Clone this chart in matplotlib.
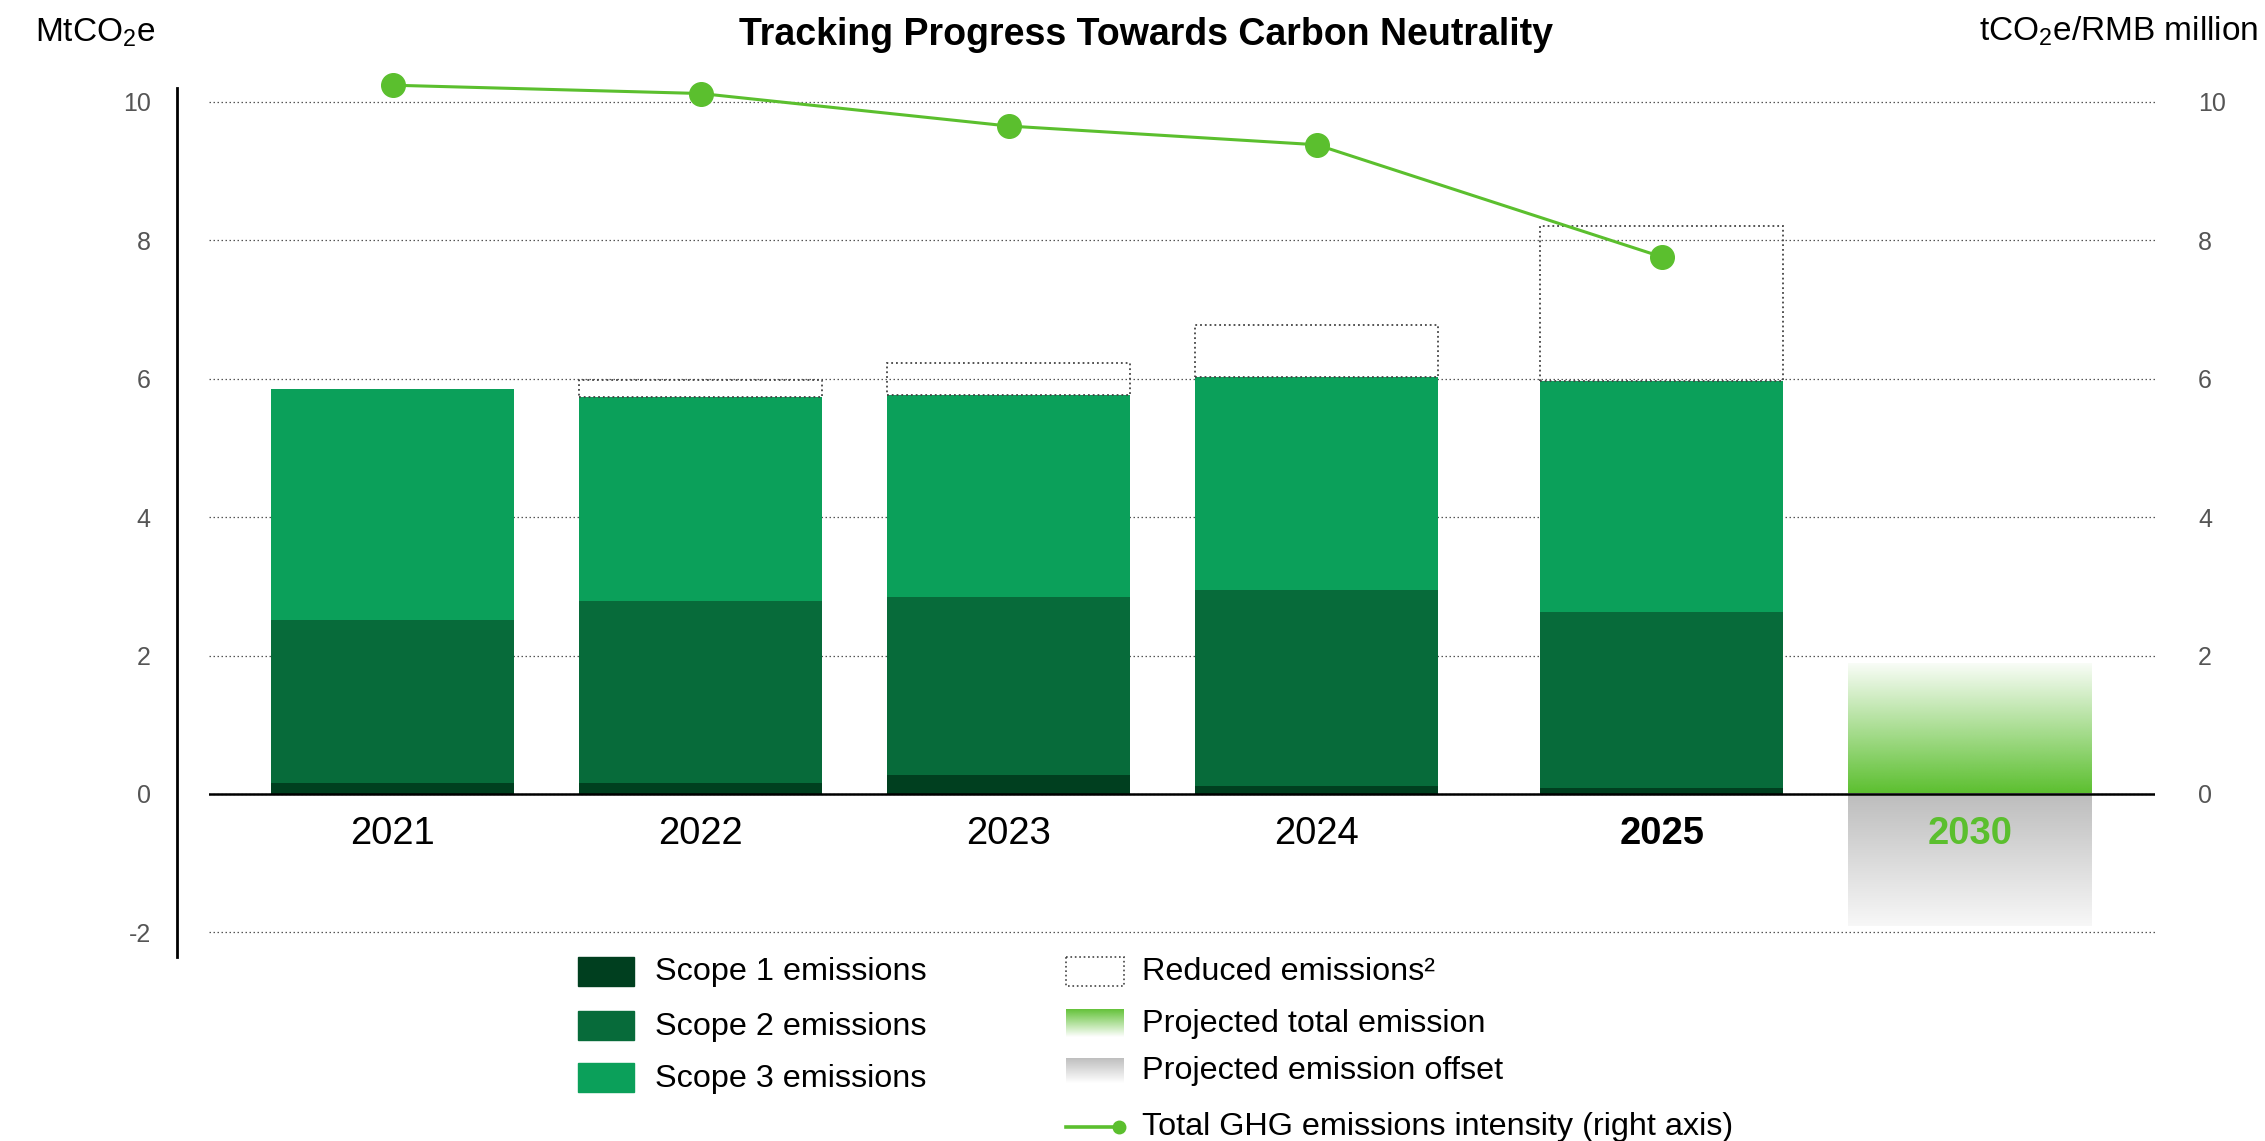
import numpy as np
import matplotlib
matplotlib.use("Agg")
import matplotlib.pyplot as plt
from matplotlib.colors import to_rgb
from matplotlib.patches import Rectangle

plt.rcParams["font.family"] = ["Liberation Sans", "DejaVu Sans"]
plt.rcParams["axes.unicode_minus"] = False

# Werte
years = ["2021", "2022", "2023", "2024", "2025"]
scope1 = [0.16, 0.16, 0.28, 0.12, 0.09]
scope2 = [2.36, 2.63, 2.56, 2.82, 2.54]
scope3 = [3.33, 2.95, 2.92, 3.09, 3.34]
reduced = [0.0, 0.24, 0.47, 0.75, 2.24]
intensity = [10.24, 10.12, 9.65, 9.38, 7.76]
target_year = "2030"
proj_total = 1.88
proj_offset = -1.91

# Layout
x = np.array([0, 1, 2, 3, 4.12])
x_target = 5.12
w = 0.79

c1, c2, c3 = "#003f1f", "#076b3a", "#0ba05a"
lime = "#5bbf2e"
tick_col = "#555555"

fig = plt.figure(figsize=(22.65, 11.41), dpi=100)
ax = fig.add_axes([0.0923, 0.1616, 0.8592, 0.7613])

s1 = np.array(scope1)
s2 = np.array(scope2)
s3 = np.array(scope3)
tot = s1 + s2 + s3
red = np.array(reduced)

# gestapelte Balken
ax.bar(x, s1, w, color=c1, zorder=2)
ax.bar(x, s2, w, bottom=s1, color=c2, zorder=2)
ax.bar(x, s3, w, bottom=s1 + s2, color=c3, zorder=2)
m = red > 0
ax.bar(x[m], red[m], w, bottom=tot[m], fill=False, edgecolor="#444444",
       linestyle=":", linewidth=1.3, zorder=3)

# 2030: Verlauf fuer Projektion
n = 256
green = np.zeros((n, 1, 4))
green[..., :3] = to_rgb(lime)
green[:, 0, 3] = np.linspace(1, 0.04, n)
ax.imshow(green, extent=[x_target - w / 2, x_target + w / 2, 0, proj_total],
          origin="lower", aspect="auto", zorder=2, interpolation="bilinear")
grey = np.ones((n, 1, 3)) * np.linspace(0.97, 0.74, n)[:, None, None]
ax.imshow(grey, extent=[x_target - w / 2, x_target + w / 2, proj_offset, 0],
          origin="lower", aspect="auto", zorder=2, interpolation="bilinear")

ax.axhline(0, color="black", lw=1.8, zorder=4)

# Achsen
ax.set_xlim(-0.596, 5.722)
ax.set_ylim(-2.35, 10.2)
ax.set_yticks([-2, 0, 2, 4, 6, 8, 10])
ax.set_xticks([])
ax.set_axisbelow(True)
ax.yaxis.grid(True, color="#555555", linestyle=(0, (1.2, 2)), linewidth=0.9)
for s in ["top", "right", "bottom"]:
    ax.spines[s].set_visible(False)
ax.spines["left"].set_position(("outward", 23))
ax.spines["left"].set_linewidth(2)
ax.tick_params(axis="y", length=0, pad=19, labelsize=18, labelcolor=tick_col)

ax2 = ax.twinx()
ax2.set_ylim(ax.get_ylim())
ax2.set_yticks([0, 2, 4, 6, 8, 10])
for s in ax2.spines.values():
    s.set_visible(False)
ax2.tick_params(axis="y", length=0, pad=31, labelsize=18, labelcolor=tick_col)
ax2.plot(x, intensity, color=lime, lw=2.2, marker="o", ms=17, zorder=5, clip_on=False)

# Jahresbeschriftung
for xi, yr in zip(x, years):
    ax.annotate(yr, xy=(xi, 0), xytext=(0, -50), textcoords="offset pixels",
                ha="center", va="baseline", fontsize=27.5,
                fontweight="bold" if yr == years[-1] else "normal")
ax.annotate(target_year, xy=(x_target, 0), xytext=(0, -50), textcoords="offset pixels",
            ha="center", va="baseline", fontsize=27.5, fontweight="bold", color=lime)

# Titel und Einheiten
fig.text(1146 / 2265, 1 - 45 / 1141, "Tracking Progress Towards Carbon Neutrality",
         ha="center", va="baseline", fontsize=27, fontweight="bold")
fig.text(35 / 2265, 1 - 41 / 1141, r"MtCO$_\mathregular{2}$e",
         ha="left", va="baseline", fontsize=24)
fig.text(2258 / 2265, 1 - 40 / 1141, r"tCO$_\mathregular{2}$e/RMB million",
         ha="right", va="baseline", fontsize=24)

# Legende von Hand (Pixelkoordinaten)
lg = fig.add_axes([0, 0, 1, 1])
lg.set_xlim(0, 2265)
lg.set_ylim(1141, 0)
lg.axis("off")

fs_leg = 23.3
for yc, col, lab in [(971, c1, "Scope 1 emissions"),
                     (1025.5, c2, "Scope 2 emissions"),
                     (1077.5, c3, "Scope 3 emissions")]:
    lg.add_patch(Rectangle((578, yc - 14.5), 56, 29, color=col))
    lg.text(655, yc + 1, lab, va="center", ha="left", fontsize=fs_leg)

lg.add_patch(Rectangle((1066, 957), 58, 29, fill=False, edgecolor="#444444",
                       linestyle=":", linewidth=1.2))
lg.text(1142, 972.5, "Reduced emissions²", va="center", ha="left", fontsize=fs_leg)

sw = np.zeros((n, 1, 4))
sw[..., :3] = to_rgb(lime)
sw[:, 0, 3] = np.linspace(0.95, 0.0, n)
lg.imshow(sw, extent=[1066, 1124, 1037, 1009], origin="upper", aspect="auto",
          interpolation="bilinear")
lg.text(1142, 1024, "Projected total emission", va="center", ha="left", fontsize=fs_leg)

sg = np.zeros((n, 1, 4))
sg[..., :3] = 0.72
sg[:, 0, 3] = np.linspace(0.9, 0.0, n)
lg.imshow(sg, extent=[1066, 1124, 1083, 1058], origin="upper", aspect="auto",
          interpolation="bilinear")
lg.text(1142, 1071.5, "Projected emission offset", va="center", ha="left", fontsize=fs_leg)

lg.plot([1066, 1118], [1126.5, 1126.5], color=lime, lw=2.6)
lg.plot([1119], [1126.5], "o", ms=9, color=lime)
lg.text(1142, 1126.5, "Total GHG emissions intensity (right axis)", va="center",
        ha="left", fontsize=fs_leg)
lg.set_xlim(0, 2265)
lg.set_ylim(1141, 0)

fig.savefig("out.png", dpi=100)
